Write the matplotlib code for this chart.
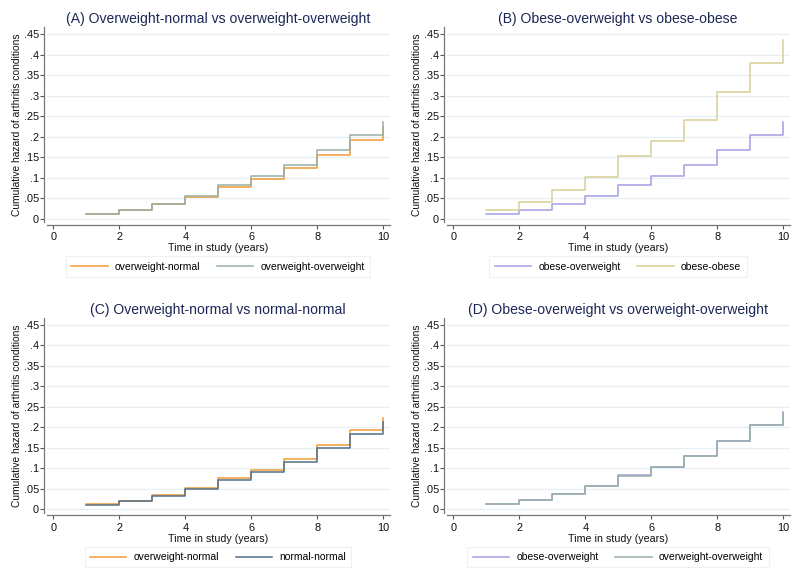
import numpy as np
import matplotlib
matplotlib.use("Agg")
import matplotlib.pyplot as plt

plt.rcParams['font.family'] = ['Liberation Sans', 'DejaVu Sans']

# follow-up times (years) at which the cumulative hazard steps
times = [1, 2, 3, 4, 5, 6, 7, 8, 9, 10]

# cumulative hazard estimates
ow_normal = [0.012, 0.021, 0.036, 0.053, 0.077, 0.097, 0.123, 0.156, 0.193, 0.223]
ow_ow = [0.012, 0.022, 0.037, 0.056, 0.082, 0.103, 0.130, 0.167, 0.205, 0.236]
ob_ow = [0.012, 0.022, 0.037, 0.056, 0.083, 0.103, 0.131, 0.167, 0.205, 0.237]
ob_ob = [0.022, 0.041, 0.069, 0.102, 0.153, 0.190, 0.240, 0.310, 0.380, 0.437]
normal_normal = [0.010, 0.020, 0.033, 0.050, 0.072, 0.092, 0.116, 0.149, 0.183, 0.212]

yticks = [0, .05, .1, .15, .2, .25, .3, .35, .4, .45]
ytick_labels = ['0', '.05', '.1', '.15', '.2', '.25', '.3', '.35', '.4', '.45']
xticks = [0, 2, 4, 6, 8, 10]

c_orange = '#f39a35'
c_green = '#97afa7'
c_purple = '#a79ee6'
c_khaki = '#d9cf97'
c_blue = '#52708a'

panels = [
    ('(A) Overweight-normal vs overweight-overweight',
     [('overweight-normal', ow_normal, c_orange), ('overweight-overweight', ow_ow, c_green)]),
    ('(B) Obese-overweight vs obese-obese',
     [('obese-overweight', ob_ow, c_purple), ('obese-obese', ob_ob, c_khaki)]),
    ('(C) Overweight-normal vs normal-normal',
     [('overweight-normal', ow_normal, c_orange), ('normal-normal', normal_normal, c_blue)]),
    ('(D) Obese-overweight vs overweight-overweight',
     [('obese-overweight', ob_ow, c_purple), ('overweight-overweight', ow_ow, c_green)]),
]

W, H = 800, 581
fig = plt.figure(figsize=(W / 100, H / 100), dpi=100)

# pixel mapping of panel A: x=0 -> 53.3, x=10 -> 383.3; y=0 -> 218.7, y=.45 -> 34
px_x0, px_per_x = 53.3, 33.0
px_y0, px_per_y = 218.7, 410.0
left, right, top, bottom = 47, 390, 27, 222
legend_x = [218, 618, 218, 618]
offsets = [(0, 0), (400, 0), (0, 290.7), (400, 290.7)]
fs = 7.4

for i, (title, series) in enumerate(panels):
    dx, dy = offsets[i]
    ax = fig.add_axes([(left + dx) / W, 1 - (bottom + dy) / H,
                       (right - left) / W, (bottom - top) / H])
    ax.set_xlim((left - px_x0) / px_per_x, (right - px_x0) / px_per_x)
    ax.set_ylim((px_y0 - bottom) / px_per_y, (px_y0 - top) / px_per_y)

    for lab, vals, col in series:
        ax.step(times, vals, where='post', color=col, lw=1.1, label=lab)

    ax.set_yticks(yticks)
    ax.set_yticklabels(ytick_labels)
    ax.set_xticks(xticks)
    ax.tick_params(axis='both', labelsize=7.9, color='#555555', length=3,
                   width=0.8, labelcolor='#111111')
    ax.tick_params(axis='y', pad=0.6)
    ax.tick_params(axis='x', pad=2.5)
    ax.grid(axis='y', color='#e6eff1', lw=0.9)
    ax.set_axisbelow(True)
    for s in ['top', 'right']:
        ax.spines[s].set_visible(False)
    for s in ['left', 'bottom']:
        ax.spines[s].set_color('#777777')
        ax.spines[s].set_linewidth(0.9)
        ax.spines[s].set_position(('outward', 2))

    ax.set_xlabel('Time in study (years)', fontsize=fs + 0.3, labelpad=0.3, color='#111111')
    ax.set_ylabel('Cumulative hazard of arthritis conditions', fontsize=fs, color='#111111')
    ax.yaxis.set_label_coords((22 - left) / (right - left), 0.5)
    fig.text((218 + dx) / W, 1 - (19.5 + dy) / H, title, ha='center', va='center',
             fontsize=10.1, color='#1c2755')

    leg = ax.legend(loc='center', bbox_to_anchor=(legend_x[i] / W, 1 - (266.5 + dy) / H),
                    bbox_transform=fig.transFigure, ncol=2, fontsize=7.5,
                    frameon=True, fancybox=False, handlelength=3.5, columnspacing=1.6,
                    handletextpad=0.7, borderpad=0.5)
    leg.get_frame().set_edgecolor('#e8eef0')
    leg.get_frame().set_linewidth(0.8)

fig.savefig('out.png', dpi=100, facecolor='white')
